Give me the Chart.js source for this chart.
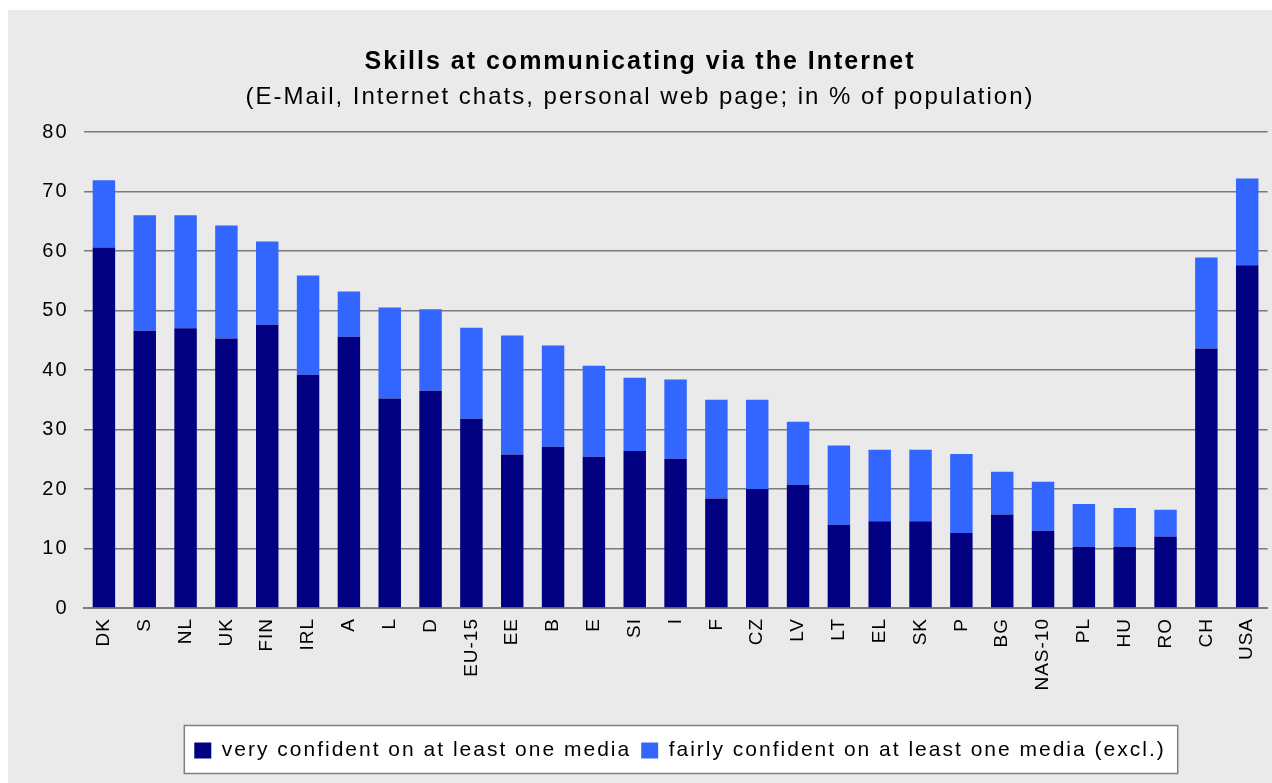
<!DOCTYPE html>
<html>
<head>
<meta charset="utf-8">
<script src="https://cdn.jsdelivr.net/npm/chart.js@4.4.1/dist/chart.umd.min.js"></script>
<style>
  html, body { margin: 0; padding: 0; background: #fff; }
  canvas { display: block; }
</style>
</head>
<body>
<canvas id="chart" width="1272" height="783"></canvas>
<script>
const countries = ['DK', 'S', 'NL', 'UK', 'FIN', 'IRL', 'A', 'L', 'D', 'EU-15', 'EE', 'B', 'E', 'SI', 'I',
    'F', 'CZ', 'LV', 'LT', 'EL', 'SK', 'P', 'BG', 'NAS-10', 'PL', 'HU', 'RO', 'CH', 'USA'];
const veryConfident = [60.6, 46.6, 47.0, 45.3, 47.6, 39.2, 45.6, 35.2, 36.5, 31.8, 25.8, 27.1, 25.4, 26.4, 25.1,
    18.4, 20.0, 20.7, 14.0, 14.6, 14.6, 12.6, 15.7, 13.0, 10.3, 10.3, 12.0, 43.6, 57.6];
const fairlyConfident = [11.3, 19.4, 19.0, 19.0, 14.0, 16.7, 7.6, 15.3, 13.7, 15.3, 20.0, 17.0, 15.3, 12.3, 13.3,
    16.6, 15.0, 10.6, 13.3, 12.0, 12.0, 13.3, 7.2, 8.2, 7.2, 6.5, 4.5, 15.3, 14.6];
const yTicks = [0, 10, 20, 30, 40, 50, 60, 70, 80];

const titleText = 'Skills at communicating via the Internet';
const subtitleText = '(E-Mail, Internet chats, personal web page; in % of population)';
const seriesNames = ['very confident on at least one media', 'fairly confident on at least one media (excl.)'];

const fontFamily = "'Liberation Sans', Arial, sans-serif";
const panelColor = '#eaeaea';
const gridColor = '#7a7a7a';
const legendShift = 40;

// the source text is drawn a bit wide, so space the letters out
const spacingPlugin = {
    id: 'spacing',
    beforeUpdate(chart) { chart.ctx.letterSpacing = '2px'; },
    beforeDraw(chart) {
        chart.ctx.letterSpacing = '2px';
        const xs = chart.scales.x;
        if (xs && !xs._narrowLabels) {
            const orig = xs.drawLabels.bind(xs);
            xs.drawLabels = function (area) {
                const prev = this.ctx.letterSpacing;
                this.ctx.letterSpacing = '1px';
                orig(area);
                this.ctx.letterSpacing = prev;
            };
            xs._narrowLabels = true;
        }
    }
};

const panelPlugin = {
    id: 'panel',
    afterLayout(chart) {
        const lg = chart.legend;
        if (lg) {
            lg.left += legendShift;
            lg.right += legendShift;
        }
    },
    beforeDraw(chart) {
        const ctx = chart.ctx;
        ctx.save();
        ctx.fillStyle = '#fff';
        ctx.fillRect(0, 0, chart.width, chart.height);
        ctx.fillStyle = panelColor;
        ctx.fillRect(8, 10, chart.width - 8, chart.height - 10);

        const lg = chart.legend;
        if (lg && lg.lineWidths) {
            const pad = lg.options.labels.padding;
            const lw = lg.lineWidths[0];
            const x0 = (lg.left + pad + lg.right - lw) / 2;
            const x1 = x0 + lw - pad;
            const yc = lg.top + pad + 10.5;
            ctx.fillStyle = '#fff';
            ctx.fillRect(x0 - 10, yc - 25, x1 - x0 + 22, 48);
            ctx.strokeStyle = '#808080';
            ctx.lineWidth = 1.5;
            ctx.strokeRect(x0 - 10, yc - 25, x1 - x0 + 22, 48);
        }
        ctx.restore();
    }
};

new Chart(document.getElementById('chart'), {
    type: 'bar',
    data: {
        labels: countries,
        datasets: [{
            label: seriesNames[0],
            data: veryConfident,
            backgroundColor: '#000080',
            barPercentage: 0.55,
            categoryPercentage: 1
        }, {
            label: seriesNames[1],
            data: fairlyConfident,
            backgroundColor: '#3366ff',
            barPercentage: 0.55,
            categoryPercentage: 1
        }]
    },
    options: {
        responsive: false,
        animation: false,
        layout: { padding: { left: 8, right: 0, top: 0, bottom: 12 } },
        plugins: {
            title: {
                display: true,
                text: titleText,
                color: '#000',
                font: { family: fontFamily, size: 25, weight: 'bold', lineHeight: 1.2 },
                padding: { top: 47, bottom: 5.6 }
            },
            subtitle: {
                display: true,
                text: subtitleText,
                color: '#000',
                font: { family: fontFamily, size: 24, lineHeight: 1.2 },
                padding: { top: 0, bottom: 20.6 }
            },
            legend: {
                position: 'bottom',
                labels: {
                    color: '#000',
                    boxWidth: 17,
                    boxHeight: 16,
                    padding: 10,
                    font: { family: fontFamily, size: 21 }
                }
            },
            tooltip: { enabled: false }
        },
        scales: {
            x: {
                stacked: true,
                grid: { display: false },
                border: { color: gridColor, width: 2 },
                ticks: {
                    color: '#000',
                    minRotation: 90,
                    maxRotation: 90,
                    autoSkip: false,
                    padding: 2,
                    font: { family: fontFamily, size: 19 }
                },
                afterFit(scale) { scale.height = 122; }
            },
            y: {
                stacked: true,
                min: 0,
                max: 80,
                afterBuildTicks(scale) { scale.ticks = yTicks.map(v => ({ value: v })); },
                grid: { color: gridColor, lineWidth: 1.5, drawTicks: false },
                border: { display: false },
                ticks: {
                    color: '#000',
                    padding: 15,
                    font: { family: fontFamily, size: 20 }
                },
                afterFit(scale) { scale.width = 75.5; }
            }
        }
    },
    plugins: [spacingPlugin, panelPlugin]
});
</script>
</body>
</html>
